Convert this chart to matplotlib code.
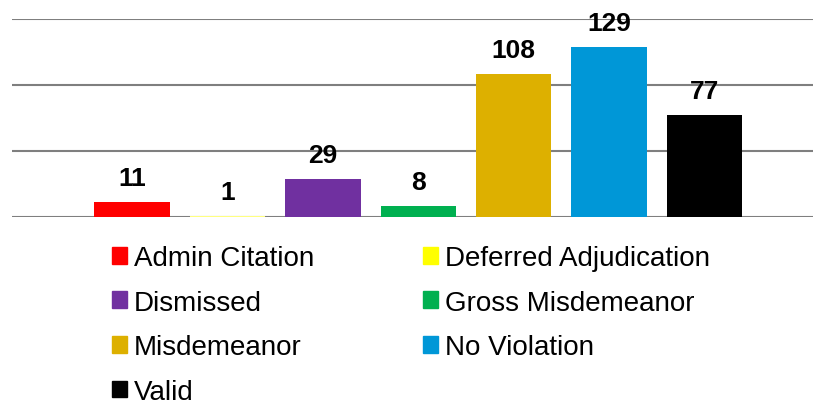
import matplotlib.pyplot as plt
from matplotlib.patches import Patch

categories = ['Admin Citation', 'Deferred Adjudication', 'Dismissed', 'Gross Misdemeanor',
              'Misdemeanor', 'No Violation', 'Valid']
values = [11, 1, 29, 8, 108, 129, 77]
colors = ['#ff0000', '#ffff80', '#7030a0', '#00b050', '#ddb000', '#0097d7', '#000000']
legend_colors = ['#ff0000', '#ffff00', '#7030a0', '#00b050', '#ddb000', '#0097d7', '#000000']

plt.rcParams['font.family'] = ['Liberation Sans', 'DejaVu Sans']

fig = plt.figure(figsize=(8.13, 4.06), dpi=100)
ax = fig.add_axes([12/813, 188/406, 1 - 12/813, 198/406])

x = list(range(len(values)))
ax.bar(x, values, width=0.79, color=colors, zorder=3)
for xi, v in zip(x, values):
    ax.text(xi, v + 13, str(v), ha='center', va='baseline', fontsize=19,
            fontweight='bold', zorder=4, clip_on=False)

ax.set_ylim(0, 150)
ax.set_xlim(-1.26, 7.14)
ax.set_yticks([0, 50, 100, 150])
ax.yaxis.grid(True, color='#7f7f7f', linewidth=1.5, zorder=0)
ax.tick_params(left=False, bottom=False, labelleft=False, labelbottom=False)
for s in ax.spines.values():
    s.set_visible(False)

# legend is filled column by column
order = [0, 2, 4, 6, 1, 3, 5]
handles = [Patch(color=legend_colors[i], label=categories[i]) for i in order]
fig.legend(handles=handles, ncol=2, loc='upper left', bbox_to_anchor=(112/813, 1 - 246/406),
           frameon=False, fontsize=20, handlelength=0.55, handleheight=0.55,
           handletextpad=0.25, labelspacing=0.67, columnspacing=3.9,
           borderaxespad=0, borderpad=0)

fig.savefig('out.png', dpi=100)
